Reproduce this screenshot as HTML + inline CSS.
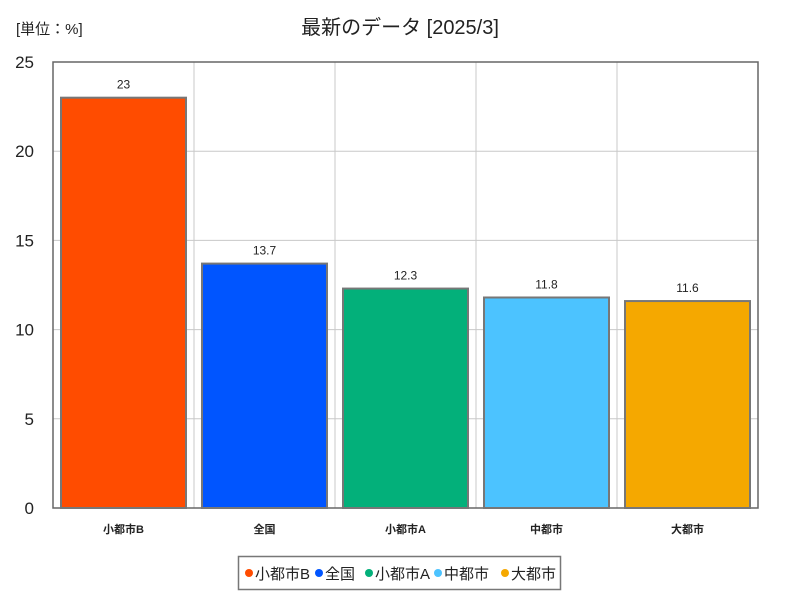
<!DOCTYPE html>
<html><head><meta charset="utf-8">
<style>
html,body{margin:0;padding:0;background:#fff;}
svg{display:block;font-family:"Liberation Sans","Noto Sans CJK JP",sans-serif;}
</style></head>
<body>
<svg id="chart" width="800" height="600" xmlns="http://www.w3.org/2000/svg">
  <text x="400" y="34" text-anchor="middle" font-size="20" fill="#222">最新のデータ [2025/3]</text>
  <text x="16" y="34" font-size="15" fill="#222">[単位：%]</text>
  <g id="grid"></g>
  <g id="bars"></g>
  <g id="legend"></g>
</svg>
<script>
const categories = ["小都市B","全国","小都市A","中都市","大都市"];
const values = [23, 13.7, 12.3, 11.8, 11.6];
const valueLabels = ["23","13.7","12.3","11.8","11.6"];
const colors = ["#ff4c00","#0055ff","#03b07a","#4cc3ff","#f5a800"];
const yTicks = [0,5,10,15,20,25];

const NS = "http://www.w3.org/2000/svg";
const L = 53, R = 758, T = 62, B = 508, yMax = 25;
const y = v => B - (v / yMax) * (B - T);
const step = (R - L) / categories.length;
const x = i => L + i * step;
function mk(tag, attrs, parent, txt){
  const e = document.createElementNS(NS, tag);
  for (const k in attrs) e.setAttribute(k, attrs[k]);
  if (txt !== undefined) e.textContent = txt;
  parent.appendChild(e); return e;
}
const grid = document.getElementById('grid');
yTicks.forEach(t => {
  const ln = mk('line', {x1:L, x2:R, y1:y(t), y2:y(t), stroke:'#c8c8c8', 'stroke-width':1}, grid);
  
  
  const tx = mk('text', {x:34, y:y(t)+6, 'text-anchor':'end', 'font-size':17, fill:'#222'}, grid, String(t));
  
  
});
for (let i = 1; i < categories.length; i++) {
  const ln = mk('line', {x1:x(i), x2:x(i), y1:T, y2:B, stroke:'#c8c8c8', 'stroke-width':1}, grid);
  
  
}
const frame = mk('rect', {x:L, y:T, width:R-L, height:B-T, fill:'none', stroke:'#666', 'stroke-width':1.5}, grid);



const bars = document.getElementById('bars');
categories.forEach((c, i) => {
  const bx = x(i) + 8, bw = step - 16;
  const r = mk('rect', {x:bx, y:y(values[i]), width:bw, height:B - y(values[i]), fill:colors[i], stroke:'#777', 'stroke-width':2}, bars);
  
  
  const v = mk('text', {x:x(i)+step/2, y:y(values[i])-9, 'text-anchor':'middle', 'font-size':12, fill:'#222'}, bars, valueLabels[i]);
  
  
  const cl = mk('text', {x:x(i)+step/2, y:533, 'text-anchor':'middle', 'font-size':11, 'font-weight':'bold', fill:'#222'}, bars, c);
  
  
});

const lg = document.getElementById('legend');
const box = mk('rect', {x:238.5, y:556.5, width:322, height:33, fill:'#fff', stroke:'#777', 'stroke-width':1.5}, lg);


const lx = [249, 319, 369, 438, 505];
categories.forEach((c, i) => {
  const g = mk('g', {}, lg);
  
  
  mk('circle', {cx:lx[i], cy:573, r:4, fill:colors[i]}, g);
  mk('text', {x:lx[i]+6, y:579, 'font-size':15, fill:'#222'}, g, c);
});
</script>
</body></html>
